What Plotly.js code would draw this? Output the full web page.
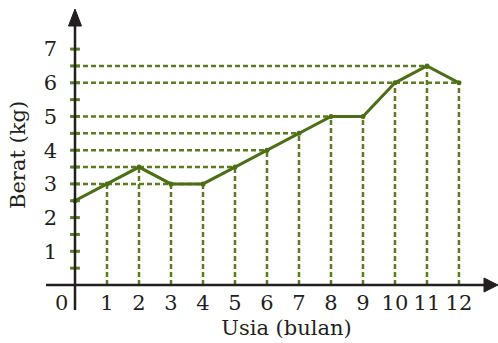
<!DOCTYPE html>
<html><head><meta charset="utf-8">
<script src="https://cdn.plot.ly/plotly-3.0.1.min.js"></script>
<style>html,body{margin:0;padding:0;background:#fff}#c{width:498px;height:343px}</style>
</head><body><div id="c"></div>
<script>
var months = [0,1,2,3,4,5,6,7,8,9,10,11,12];
var weights = [2.5,3,3.5,3,3,3.5,4,4.5,5,5,6,6.5,6];
var xTickVals = [1,2,3,4,5,6,7,8,9,10,11,12];
var xTickText = ['1','2','3','4','5','6','7','8','9','10','11','12'];
var yTickVals = [1,2,3,4,5,6,7];
var yMinorTicks = [0.5,1,1.5,2,2.5,3,3.5,4,4.5,5,5.5,6,6.5,7];
var xTitle = 'Usia (bulan)';
var yTitle = 'Berat (kg)';

var W = 498, H = 343, L = 75, R = 0, T = 5, B = 58;
var pw = W - L - R, ph = H - T - B;
function px(p){ return (p - L) / pw; }
function py(p){ return (H - B - p) / ph; }

var GREEN = '#5b7d22', LINE = '#4c6f16', AX = '#231f20';
var FONT = 'DejaVu Serif, serif';
var FS = 21;

var traces = [];
var seen = {};
weights.forEach(function(v){
  if (seen[v]) return; seen[v] = true;
  var xm = 0;
  months.forEach(function(m,i){ if (weights[i] === v) xm = Math.max(xm, m); });
  if (xm > 0) traces.push({x:[0,xm], y:[v,v], mode:'lines', line:{color:GREEN, width:2.5, dash:'5px,3px'}, hoverinfo:'skip', cliponaxis:false});
});
months.forEach(function(m,i){
  if (m > 0) traces.push({x:[m,m], y:[0,weights[i]], mode:'lines', line:{color:GREEN, width:2.5, dash:'5px,3px'}, hoverinfo:'skip', cliponaxis:false});
});
traces.push({x:yMinorTicks.map(function(){return 0;}), y:yMinorTicks, mode:'markers', marker:{symbol:'line-ew-open', size:7, color:GREEN, line:{color:GREEN, width:3}}, hoverinfo:'skip', cliponaxis:false});
traces.push({x:months, y:weights, mode:'lines+markers', line:{color:LINE, width:3}, marker:{color:LINE, size:5}, cliponaxis:false});

var x1 = 13.22, y1 = 280/33.7;
var layout = {
  width: W, height: H, margin:{l:L, r:R, t:T, b:B},
  paper_bgcolor:'#fff', plot_bgcolor:'#fff', showlegend:false,
  font:{family:FONT, size:FS, color:AX},
  xaxis:{range:[0, x1], tickvals:xTickVals, ticktext:xTickText, showgrid:false, zeroline:false, showline:false, ticks:'', ticklabelstandoff:3, tickfont:{size:FS, family:FONT, color:AX},
    title:{text:xTitle, font:{size:FS, family:FONT, color:AX}, standoff:6}},
  yaxis:{range:[0, y1], tickvals:yTickVals, showgrid:false, zeroline:false, showline:false, ticks:'', ticklabelstandoff:17, tickfont:{size:FS, family:FONT, color:AX}},
  shapes:[
    {type:'line', xref:'paper', yref:'paper', x0:px(46), x1:px(487), y0:py(285), y1:py(285), line:{color:AX, width:2.5}},
    {type:'path', xref:'paper', yref:'paper', path:'M'+px(498)+','+py(285)+' L'+px(484)+','+py(278)+' L'+px(484)+','+py(292)+' Z', fillcolor:AX, line:{color:AX, width:1}},
    {type:'line', xref:'paper', yref:'paper', x0:px(75), x1:px(75), y0:py(310), y1:py(22), line:{color:AX, width:2.5}},
    {type:'path', xref:'paper', yref:'paper', path:'M'+px(75)+','+py(9)+' L'+px(68.5)+','+py(26)+' L'+px(81.5)+','+py(26)+' Z', fillcolor:AX, line:{color:AX, width:1}}
  ],
  annotations:[
    {text:'0', xref:'paper', yref:'paper', x:px(61), y:py(303), xanchor:'center', yanchor:'middle', showarrow:false, font:{size:FS, family:FONT, color:AX}},
    {text:yTitle, xref:'paper', yref:'paper', x:px(18), y:py(155), xanchor:'center', yanchor:'middle', textangle:-90, showarrow:false, font:{size:FS, family:FONT, color:AX}}
  ]
};
Plotly.newPlot('c', traces, layout, {staticPlot:true, displayModeBar:false});
</script></body></html>
